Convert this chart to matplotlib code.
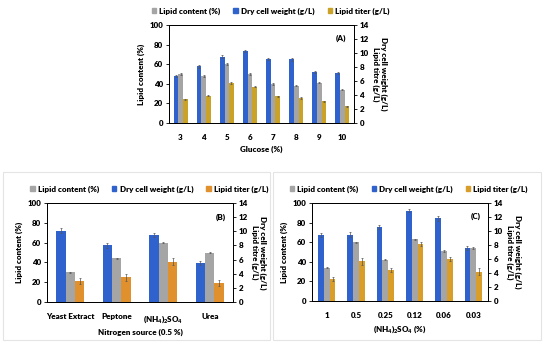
import numpy as np
import matplotlib
matplotlib.use("Agg")
import matplotlib.pyplot as plt
from matplotlib.patches import Patch, Rectangle

plt.rcParams['font.family'] = ['Lato', 'DejaVu Sans']
plt.rcParams['font.weight'] = 'heavy'
plt.rcParams['axes.labelweight'] = 'heavy'
plt.rcParams['font.size'] = 5.8
plt.rcParams['mathtext.default'] = 'regular'

# Panel A: glucose
glucose = ["3", "4", "5", "6", "7", "8", "9", "10"]
a_lipid = [50, 48, 60, 50, 40, 38, 41, 34]
a_dcw = [6.7, 8.1, 9.5, 10.3, 9.1, 9.1, 7.3, 7.1]
a_titer = [3.4, 3.9, 5.7, 5.2, 3.8, 3.6, 3.1, 2.4]
a_lipid_err = [1.0, 0.6, 1.0, 1.0, 1.0, 0.6, 0.6, 0.6]
a_dcw_err = [0.15, 0.2, 0.15, 0.2, 0.15, 0.2, 0.15, 0.15]
a_titer_err = [0.1, 0.1, 0.1, 0.1, 0.1, 0.1, 0.1, 0.1]

# Panel B: nitrogen source
nitrogen = ["Yeast Extract", "Peptone", "(NH$_4$)$_2$SO$_4$", "Urea"]
b_lipid = [30, 44, 60, 50]
b_dcw = [10.1, 8.0, 9.5, 5.5]
b_titer = [3.0, 3.5, 5.7, 2.7]
b_lipid_err = [0.8, 0.6, 0.6, 0.8]
b_dcw_err = [0.3, 0.3, 0.25, 0.3]
b_titer_err = [0.45, 0.5, 0.5, 0.45]

# Panel C: (NH4)2SO4 level
ammonium = ["1", "0.5", "0.25", "0.12", "0.06", "0.03"]
c_lipid = [34, 60, 42, 63, 51, 54]
c_dcw = [9.4, 9.5, 10.6, 12.9, 11.8, 7.6]
c_titer = [3.1, 5.7, 4.4, 8.2, 6.0, 4.2]
c_lipid_err = [0.6, 0.6, 0.6, 0.6, 0.8, 0.6]
c_dcw_err = [0.3, 0.3, 0.3, 0.25, 0.3, 0.3]
c_titer_err = [0.3, 0.5, 0.3, 0.3, 0.3, 0.45]

blue = "#2F62CC"
grey = "#A5A5A5"


def panel(rect, cats, lipid, dcw, titer, lerr, derr, terr, tcolor, xlabel, tag):
    ax = fig.add_axes(rect)
    ax2 = ax.twinx()
    x = np.arange(len(cats))
    w = 0.2
    ek = dict(ecolor="#555555", elinewidth=0.5, capsize=1.0, capthick=0.5)
    ax2.bar(x - 0.2, dcw, w, color=blue, yerr=derr, error_kw=ek)
    ax.bar(x, lipid, w, color=grey, yerr=lerr, error_kw=ek)
    ax2.bar(x + 0.2, titer, w, color=tcolor, yerr=terr, error_kw=ek)
    ax.set_ylim(0, 100)
    ax2.set_ylim(0, 14)
    ax.set_xlim(-0.5, len(cats) - 0.5)
    ax.set_yticks(range(0, 101, 20))
    ax2.set_yticks(range(0, 15, 2))
    ax.set_xticks(x)
    ax.set_xticklabels(cats)
    for a in (ax, ax2):
        a.tick_params(length=2, width=0.6, pad=2)
        for s in a.spines.values():
            s.set_linewidth(0.7)
    ax.tick_params(axis="x", length=0, pad=8)
    ax.set_xlabel(xlabel, labelpad=3)
    ax.set_ylabel("Lipid content (%)", labelpad=3)
    ax2.set_ylabel("Dry cell weight (g/L)\nLipid titre (g/L)", rotation=270,
                   labelpad=13, linespacing=1.0)
    ax.text(0.96, 0.86, tag, transform=ax.transAxes, ha="right", va="center")
    handles = [Patch(color=grey, label="Lipid content (%)"),
               Patch(color=blue, label="Dry cell weight (g/L)"),
               Patch(color=tcolor, label="Lipid titer (g/L)")]
    ax.legend(handles=handles, ncol=3, frameon=False, loc="center",
              bbox_to_anchor=(0.55, 1.14), handlelength=0.55, handleheight=0.55,
              handletextpad=0.4, columnspacing=1.6, borderaxespad=0.0,
              borderpad=0.0)
    return ax


fig = plt.figure(figsize=(5.5, 3.47), dpi=100)
W, H = 550.0, 347.0


def rect(l, t, r, b):
    return [l / W, 1 - b / H, (r - l) / W, (b - t) / H]


panel(rect(169, 25, 354, 123), glucose, a_lipid, a_dcw, a_titer,
      a_lipid_err, a_dcw_err, a_titer_err, "#C9A227", "Glucose (%)", "(A)")
panel(rect(47, 203, 233, 302), nitrogen, b_lipid, b_dcw, b_titer,
      b_lipid_err, b_dcw_err, b_titer_err, "#E0902C", "Nitrogen source (0.5 %)", "(B)")
panel(rect(312, 203, 488, 301), ammonium, c_lipid, c_dcw, c_titer,
      c_lipid_err, c_dcw_err, c_titer_err, "#D99E2A", "(NH$_4$)$_2$SO$_4$ (%)", "(C)")

# faint frames round the lower panels
for l, r in [(3, 270), (273, 541)]:
    fig.patches.append(Rectangle((l / W, 1 - 340 / H), (r - l) / W, 168 / H,
                                 transform=fig.transFigure, fill=False,
                                 edgecolor="#e4e4e4", lw=0.8))

fig.savefig("out.png", dpi=100)
